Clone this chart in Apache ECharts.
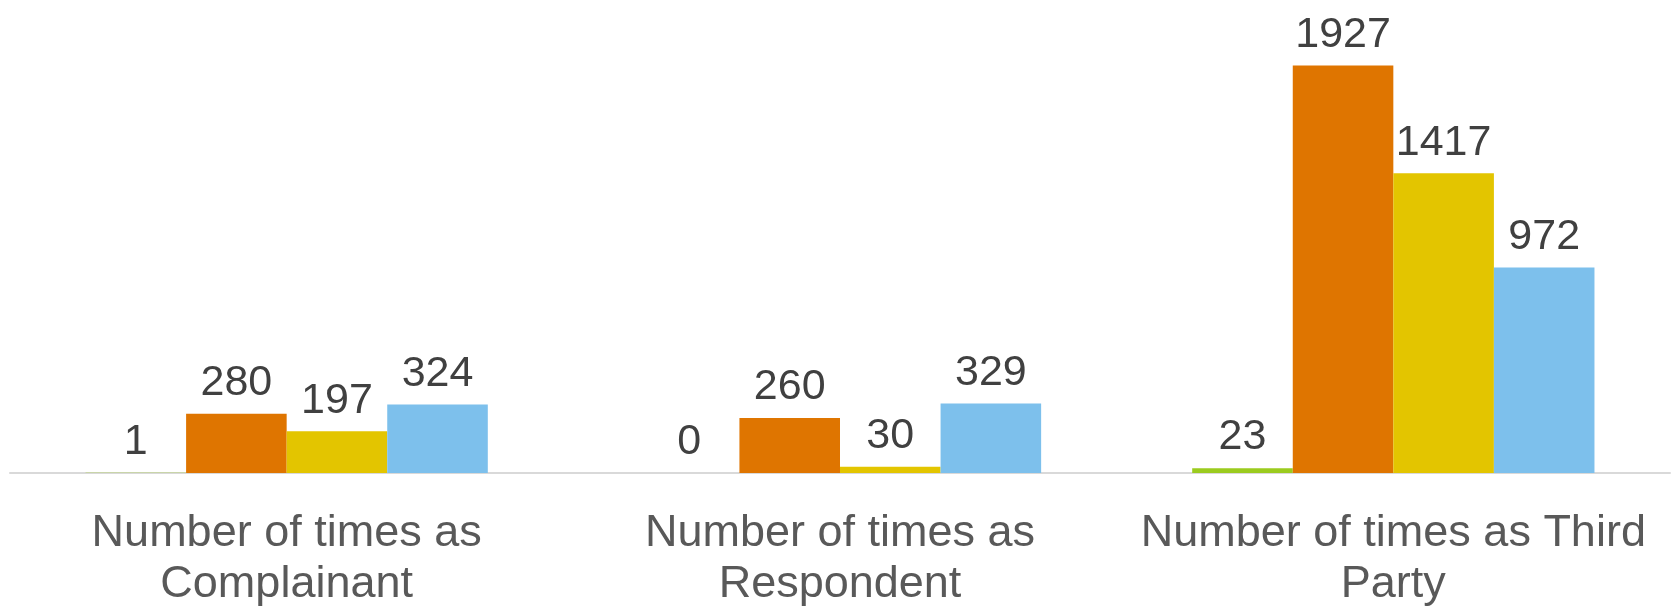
<!DOCTYPE html>
<html>
<head>
<meta charset="utf-8">
<script src="https://cdn.jsdelivr.net/npm/echarts@6/dist/echarts.min.js"></script>
<style>
html,body{margin:0;padding:0;background:#fff;}
#chart{width:1677px;height:606px;}
</style>
</head>
<body>
<div id="chart"></div>
<script>
const categories = ["Number of times as\nComplainant", "Number of times as\nRespondent", "Number of times as Third\nParty"];
const seriesGreen = [1, 0, 23];
const seriesOrange = [280, 260, 1927];
const seriesYellow = [197, 30, 1417];
const seriesBlue = [324, 329, 972];

const colors = ["#9BCB1E", "#DF7500", "#E3C500", "#7DC0EC"];
const fontFam = "'Liberation Sans', sans-serif";

const chart = echarts.init(document.getElementById('chart'), null, {renderer: 'canvas'});
function mk(name, data, color) {
  return {
    name: name, type: 'bar', data: data,
    barGap: '0%', barCategoryGap: '27.3%',
    itemStyle: {color: color},
    label: {show: true, position: 'top', distance: 9, color: '#404040',
            fontFamily: fontFam, fontSize: 43},
    animation: false
  };
}
chart.setOption({
  animation: false,
  grid: {left: 10, right: 7, top: 50, bottom: 133, containLabel: false, outerBoundsMode: 'none'},
  xAxis: {
    type: 'category', data: categories,
    axisLine: {lineStyle: {color: '#D9D9D9', width: 2}},
    axisTick: {show: false},
    axisLabel: {color: '#595959', fontFamily: fontFam, fontSize: 45, lineHeight: 51, margin: 35, interval: 0}
  },
  yAxis: {type: 'value', min: 0, max: 2000, show: false, splitLine: {show: false}},
  series: [
    mk('A', seriesGreen, colors[0]),
    mk('B', seriesOrange, colors[1]),
    mk('C', seriesYellow, colors[2]),
    mk('D', seriesBlue, colors[3])
  ]
});
</script>
</body>
</html>
